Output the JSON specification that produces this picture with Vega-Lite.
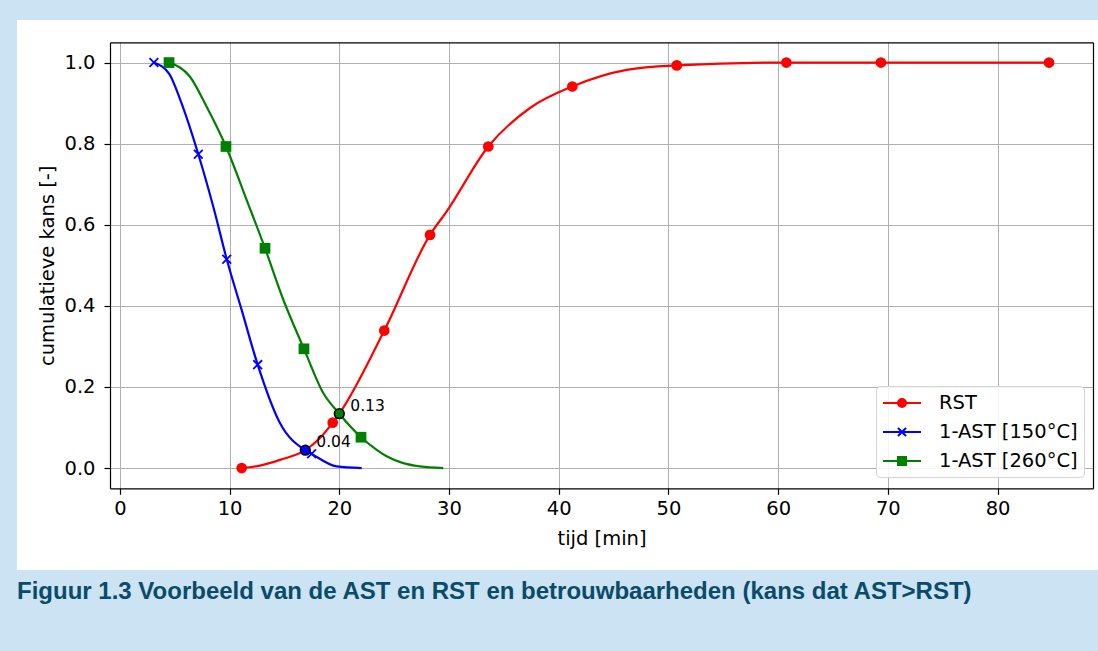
{
  "$schema": "https://vega.github.io/schema/vega-lite/v6.json",
  "autosize": {"type": "none"},
  "width": 1081,
  "height": 550,
  "padding": {"left": 17, "top": 20, "right": 0, "bottom": 81},
  "background": "#cbe3f2",
  "config": {"view": {"fill": "white", "stroke": null}, "font": "DejaVu Sans"},
  "title": {
    "text": "Figuur 1.3 Voorbeeld van de AST en RST en betrouwbaarheden (kans dat AST>RST)",
    "orient": "bottom",
    "anchor": "start",
    "frame": "group",
    "offset": 28.5,
    "baseline": "alphabetic",
    "font": "Liberation Sans",
    "fontSize": 24,
    "fontWeight": "bold",
    "color": "#0a4b69"
  },
  "datasets": {
    "curves": [
      {"reeks": "RST", "tijd": 11.1, "kans": 0.0},
      {"reeks": "RST", "tijd": 12.77, "kans": 0.006},
      {"reeks": "RST", "tijd": 14.59, "kans": 0.02},
      {"reeks": "RST", "tijd": 16.9, "kans": 0.044},
      {"reeks": "RST", "tijd": 18.24, "kans": 0.074},
      {"reeks": "RST", "tijd": 19.4, "kans": 0.112},
      {"reeks": "RST", "tijd": 20.0, "kans": 0.134},
      {"reeks": "RST", "tijd": 24.1, "kans": 0.339},
      {"reeks": "RST", "tijd": 28.27, "kans": 0.575},
      {"reeks": "RST", "tijd": 29.79, "kans": 0.633},
      {"reeks": "RST", "tijd": 33.58, "kans": 0.793},
      {"reeks": "RST", "tijd": 37.38, "kans": 0.888},
      {"reeks": "RST", "tijd": 41.24, "kans": 0.941},
      {"reeks": "RST", "tijd": 46.2, "kans": 0.982},
      {"reeks": "RST", "tijd": 50.76, "kans": 0.993},
      {"reeks": "RST", "tijd": 60.75, "kans": 1.0},
      {"reeks": "RST", "tijd": 69.37, "kans": 1.0},
      {"reeks": "RST", "tijd": 84.69, "kans": 1.0},
      {"reeks": "1-AST [150°C]", "tijd": 3.1, "kans": 1.0},
      {"reeks": "1-AST [150°C]", "tijd": 4.5, "kans": 0.972},
      {"reeks": "1-AST [150°C]", "tijd": 5.48, "kans": 0.91},
      {"reeks": "1-AST [150°C]", "tijd": 7.15, "kans": 0.774},
      {"reeks": "1-AST [150°C]", "tijd": 8.51, "kans": 0.645},
      {"reeks": "1-AST [150°C]", "tijd": 9.74, "kans": 0.515},
      {"reeks": "1-AST [150°C]", "tijd": 11.1, "kans": 0.39},
      {"reeks": "1-AST [150°C]", "tijd": 12.56, "kans": 0.255},
      {"reeks": "1-AST [150°C]", "tijd": 14.59, "kans": 0.111},
      {"reeks": "1-AST [150°C]", "tijd": 16.9, "kans": 0.044},
      {"reeks": "1-AST [150°C]", "tijd": 17.48, "kans": 0.035},
      {"reeks": "1-AST [150°C]", "tijd": 19.76, "kans": 0.004},
      {"reeks": "1-AST [150°C]", "tijd": 22.04, "kans": 0.0},
      {"reeks": "1-AST [260°C]", "tijd": 4.48, "kans": 1.0},
      {"reeks": "1-AST [260°C]", "tijd": 6.39, "kans": 0.965},
      {"reeks": "1-AST [260°C]", "tijd": 7.91, "kans": 0.891},
      {"reeks": "1-AST [260°C]", "tijd": 9.67, "kans": 0.793},
      {"reeks": "1-AST [260°C]", "tijd": 11.56, "kans": 0.661},
      {"reeks": "1-AST [260°C]", "tijd": 13.23, "kans": 0.542},
      {"reeks": "1-AST [260°C]", "tijd": 14.9, "kans": 0.415},
      {"reeks": "1-AST [260°C]", "tijd": 16.78, "kans": 0.294},
      {"reeks": "1-AST [260°C]", "tijd": 18.54, "kans": 0.185},
      {"reeks": "1-AST [260°C]", "tijd": 20.0, "kans": 0.134},
      {"reeks": "1-AST [260°C]", "tijd": 21.98, "kans": 0.076},
      {"reeks": "1-AST [260°C]", "tijd": 23.41, "kans": 0.045},
      {"reeks": "1-AST [260°C]", "tijd": 24.32, "kans": 0.029},
      {"reeks": "1-AST [260°C]", "tijd": 25.83, "kans": 0.012},
      {"reeks": "1-AST [260°C]", "tijd": 27.36, "kans": 0.004},
      {"reeks": "1-AST [260°C]", "tijd": 29.48, "kans": 0.0}
    ],
    "markers": [
      {"reeks": "RST", "tijd": 11.1, "kans": 0.0},
      {"reeks": "RST", "tijd": 19.4, "kans": 0.112},
      {"reeks": "RST", "tijd": 24.1, "kans": 0.339},
      {"reeks": "RST", "tijd": 28.27, "kans": 0.575},
      {"reeks": "RST", "tijd": 33.58, "kans": 0.793},
      {"reeks": "RST", "tijd": 41.24, "kans": 0.941},
      {"reeks": "RST", "tijd": 50.76, "kans": 0.993},
      {"reeks": "RST", "tijd": 60.75, "kans": 1.0},
      {"reeks": "RST", "tijd": 69.37, "kans": 1.0},
      {"reeks": "RST", "tijd": 84.69, "kans": 1.0},
      {"reeks": "1-AST [150°C]", "tijd": 3.1, "kans": 1.0},
      {"reeks": "1-AST [150°C]", "tijd": 7.15, "kans": 0.774},
      {"reeks": "1-AST [150°C]", "tijd": 9.74, "kans": 0.515},
      {"reeks": "1-AST [150°C]", "tijd": 12.56, "kans": 0.255},
      {"reeks": "1-AST [150°C]", "tijd": 17.48, "kans": 0.035},
      {"reeks": "1-AST [260°C]", "tijd": 4.48, "kans": 1.0},
      {"reeks": "1-AST [260°C]", "tijd": 9.67, "kans": 0.793},
      {"reeks": "1-AST [260°C]", "tijd": 13.23, "kans": 0.542},
      {"reeks": "1-AST [260°C]", "tijd": 16.78, "kans": 0.294},
      {"reeks": "1-AST [260°C]", "tijd": 21.98, "kans": 0.076}
    ],
    "snijpunten": [
      {"reeks": "1-AST [150°C]", "tijd": 16.9, "kans": 0.044},
      {"reeks": "1-AST [260°C]", "tijd": 20.0, "kans": 0.134}
    ]
  },
  "layer": [
    {
      "data": {"name": "curves"},
      "mark": {"type": "line", "interpolate": "monotone", "strokeWidth": 2.2},
      "encoding": {
        "x": {
          "field": "tijd", "type": "quantitative",
          "scale": {"domain": [-0.9, 88.7], "range": [93, 1076], "nice": false, "zero": false},
          "axis": {
            "orient": "bottom", "offset": -81.7,
            "values": [0, 10, 20, 30, 40, 50, 60, 70, 80], "format": "d",
            "grid": false, "title": "tijd [min]",
            "domainColor": "black", "domainWidth": 1.2,
            "tickColor": "black", "tickWidth": 1.2, "tickSize": 6,
            "labelFont": "DejaVu Sans", "labelFontSize": 19.5, "labelColor": "black",
            "labelPadding": 5, "labelFlush": false, "labelOverlap": false,
            "titleFont": "DejaVu Sans", "titleFontSize": 19.5, "titleFontWeight": "normal",
            "titleColor": "black", "titlePadding": 12
          }
        },
        "y": {
          "field": "kans", "type": "quantitative",
          "scale": {"domain": [-0.05, 1.05], "range": [468.3, 22.3], "nice": false, "zero": false},
          "axis": {
            "orient": "left", "offset": -93,
            "values": [0, 0.2, 0.4, 0.6, 0.8, 1], "format": ".1f",
            "grid": true, "gridColor": "#b0b0b0", "gridWidth": 1,
            "title": "cumulatieve kans [-]",
            "domainColor": "black", "domainWidth": 1.2,
            "tickColor": "black", "tickWidth": 1.2, "tickSize": 6,
            "labelFont": "DejaVu Sans", "labelFontSize": 19.5, "labelColor": "black",
            "labelPadding": 9, "labelFlush": false, "labelOverlap": false,
            "titleFont": "DejaVu Sans", "titleFontSize": 19.5, "titleFontWeight": "normal",
            "titleColor": "black", "titlePadding": 6
          }
        },
        "color": {
          "field": "reeks", "type": "nominal",
          "scale": {"domain": ["RST", "1-AST [150°C]", "1-AST [260°C]"], "range": ["#ff0000", "#0000ff", "#008000"]},
          "legend": {
            "title": null,
            "orient": "none", "legendX": 859, "legendY": 366,
            "fillColor": "rgba(255,255,255,0.85)", "strokeColor": "#d4d4d4", "cornerRadius": 4,
            "padding": 6, "symbolSize": 400, "symbolStrokeWidth": 2, "symbolOpacity": 1,
            "rowPadding": 8, "labelOffset": 35,
            "labelFont": "DejaVu Sans", "labelFontSize": 19.5, "labelColor": "black", "labelLimit": 300
          }
        }
      }
    },
    {
      "data": {"name": "markers"},
      "transform": [{"filter": "datum.reeks === 'RST'"}],
      "mark": {"type": "point", "shape": "circle", "filled": true, "size": 115, "opacity": 1},
      "encoding": {
        "x": {
          "field": "tijd", "type": "quantitative",
          "axis": {
            "orient": "top", "offset": -22.3,
            "values": [0, 10, 20, 30, 40, 50, 60, 70, 80],
            "grid": true, "gridColor": "#b0b0b0", "gridWidth": 1,
            "labels": false, "ticks": false, "title": null,
            "domainColor": "black", "domainWidth": 1.2
          }
        },
        "y": {
          "field": "kans", "type": "quantitative",
          "axis": {
            "orient": "right", "offset": -5,
            "grid": false, "labels": false, "ticks": false, "title": null,
            "domainColor": "black", "domainWidth": 1.2
          }
        },
        "color": {"field": "reeks", "type": "nominal"}
      }
    },
    {
      "data": {"name": "markers"},
      "transform": [{"filter": "datum.reeks === '1-AST [150°C]'"}],
      "mark": {"type": "point", "shape": "M-0.9,-0.9L0.9,0.9M-0.9,0.9L0.9,-0.9", "filled": false, "size": 95, "strokeWidth": 1.8, "opacity": 1},
      "encoding": {
        "x": {"field": "tijd", "type": "quantitative", "axis": null},
        "y": {"field": "kans", "type": "quantitative", "axis": null},
        "color": {"field": "reeks", "type": "nominal"}
      }
    },
    {
      "data": {"name": "markers"},
      "transform": [{"filter": "datum.reeks === '1-AST [260°C]'"}],
      "mark": {"type": "point", "shape": "square", "filled": true, "size": 115, "opacity": 1},
      "encoding": {
        "x": {"field": "tijd", "type": "quantitative", "axis": null},
        "y": {"field": "kans", "type": "quantitative", "axis": null},
        "color": {"field": "reeks", "type": "nominal"}
      }
    },
    {
      "data": {"values": []},
      "mark": {"type": "point", "filled": true, "opacity": 1},
      "encoding": {
        "x": {"field": "tijd", "type": "quantitative", "axis": null},
        "y": {"field": "kans", "type": "quantitative", "axis": null},
        "color": {"field": "reeks", "type": "nominal"},
        "shape": {
          "field": "reeks", "type": "nominal",
          "scale": {
            "domain": ["RST", "1-AST [150°C]", "1-AST [260°C]"],
            "range": [
              "M-1,0L2.8,0M1.3,0A0.4,0.4,0,1,1,0.5,0A0.4,0.4,0,1,1,1.3,0Z",
              "M-1,0L2.8,0M0.5,-0.4L1.3,0.4M0.5,0.4L1.3,-0.4",
              "M-1,0L2.8,0M0.5,-0.4L1.3,-0.4L1.3,0.4L0.5,0.4Z"
            ]
          }
        }
      }
    },
    {
      "data": {"name": "snijpunten"},
      "mark": {"type": "point", "shape": "circle", "filled": true, "size": 95, "stroke": "black", "strokeWidth": 1.6, "opacity": 1},
      "encoding": {
        "x": {"field": "tijd", "type": "quantitative", "axis": null},
        "y": {"field": "kans", "type": "quantitative", "axis": null},
        "color": {"field": "reeks", "type": "nominal"}
      }
    },
    {
      "data": {"name": "snijpunten"},
      "mark": {"type": "text", "align": "left", "baseline": "middle", "dx": 11, "dy": -8, "fontSize": 15.5, "font": "DejaVu Sans", "color": "black"},
      "encoding": {
        "x": {"field": "tijd", "type": "quantitative", "axis": null},
        "y": {"field": "kans", "type": "quantitative", "axis": null},
        "text": {"field": "kans", "type": "quantitative", "format": ".2f"}
      }
    }
  ],
  "resolve": {"axis": {"x": "independent", "y": "independent"}}
}
